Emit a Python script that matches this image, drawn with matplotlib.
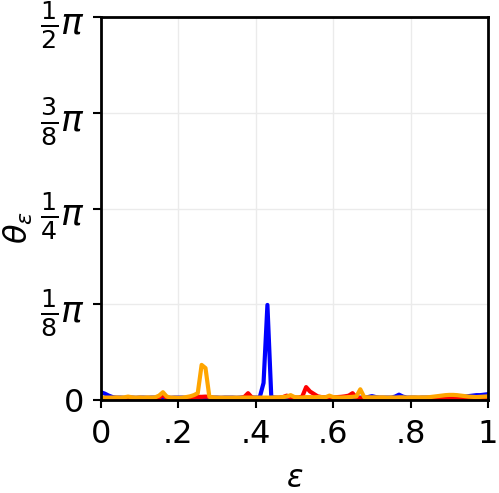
import numpy as np
import matplotlib
matplotlib.use("Agg")
from matplotlib import pyplot as plt

eps = np.linspace(0, 1, 101)

# theta values in radians
theta_blue = [
    0.032, 0.026, 0.018, 0.012, 0.010, 0.010, 0.009, 0.010, 0.010, 0.009,
    0.010, 0.010, 0.009, 0.010, 0.010, 0.010, 0.011, 0.010, 0.009, 0.010,
    0.010, 0.010, 0.009, 0.010, 0.010, 0.010, 0.010, 0.009, 0.010, 0.010,
    0.010, 0.009, 0.010, 0.010, 0.010, 0.009, 0.010, 0.010, 0.010, 0.010,
    0.010, 0.010, 0.070, 0.390, 0.012, 0.010, 0.009, 0.010, 0.010, 0.009,
    0.010, 0.008, 0.006, 0.005, 0.006, 0.005, 0.008, 0.009, 0.010, 0.009,
    0.010, 0.010, 0.009, 0.010, 0.010, 0.009, 0.010, 0.010, 0.010, 0.012,
    0.016, 0.012, 0.010, 0.010, 0.010, 0.010, 0.014, 0.022, 0.014, 0.010,
    0.010, 0.010, 0.009, 0.010, 0.010, 0.010, 0.011, 0.010, 0.010, 0.010,
    0.010, 0.010, 0.012, 0.012, 0.014, 0.016, 0.018, 0.020, 0.020, 0.022,
    0.024,
]

theta_red = [
    0.005, 0.005, 0.005, 0.004, 0.005, 0.005, 0.004, 0.005, 0.005, 0.005,
    0.004, 0.005, 0.005, 0.005, 0.006, 0.010, 0.020, 0.008, 0.005, 0.005,
    0.005, 0.005, 0.006, 0.008, 0.012, 0.013, 0.013, 0.014, 0.013, 0.008,
    0.006, 0.005, 0.005, 0.006, 0.007, 0.006, 0.008, 0.012, 0.028, 0.010,
    0.007, 0.006, 0.006, 0.007, 0.008, 0.008, 0.009, 0.012, 0.018, 0.010,
    0.009, 0.010, 0.014, 0.053, 0.035, 0.025, 0.015, 0.012, 0.010, 0.011,
    0.012, 0.012, 0.013, 0.015, 0.018, 0.028, 0.010, 0.008, 0.007, 0.006,
    0.006, 0.006, 0.007, 0.006, 0.006, 0.007, 0.006, 0.006, 0.006, 0.007,
    0.006, 0.006, 0.006, 0.007, 0.008, 0.006, 0.006, 0.006, 0.006, 0.007,
    0.006, 0.005, 0.004, 0.004, 0.004, 0.005, 0.004, 0.004, 0.004, 0.004,
    0.004,
]

theta_orange = [
    0.010, 0.010, 0.010, 0.010, 0.011, 0.010, 0.011, 0.014, 0.011, 0.010,
    0.011, 0.010, 0.011, 0.010, 0.011, 0.018, 0.032, 0.014, 0.010, 0.010,
    0.009, 0.010, 0.012, 0.015, 0.020, 0.028, 0.144, 0.131, 0.013, 0.011,
    0.010, 0.010, 0.010, 0.010, 0.010, 0.010, 0.010, 0.010, 0.010, 0.010,
    0.010, 0.010, 0.010, 0.010, 0.010, 0.011, 0.011, 0.012, 0.014, 0.020,
    0.012, 0.011, 0.010, 0.012, 0.012, 0.011, 0.012, 0.012, 0.011, 0.018,
    0.012, 0.011, 0.010, 0.011, 0.012, 0.013, 0.015, 0.044, 0.012, 0.011,
    0.011, 0.011, 0.011, 0.011, 0.010, 0.011, 0.010, 0.011, 0.011, 0.010,
    0.011, 0.011, 0.011, 0.011, 0.011, 0.012, 0.014, 0.016, 0.018, 0.020,
    0.021, 0.021, 0.020, 0.018, 0.016, 0.014, 0.013, 0.012, 0.013, 0.014,
    0.015,
]

yticks = [0, np.pi/8, np.pi/4, 3*np.pi/8, np.pi/2]
ytick_labels = ["0", r"$\frac{1}{8}\pi$", r"$\frac{1}{4}\pi$",
                r"$\frac{3}{8}\pi$", r"$\frac{1}{2}\pi$"]
xticks = [0, 0.2, 0.4, 0.6, 0.8, 1.0]
xtick_labels = ["0", ".2", ".4", ".6", ".8", "1"]

fig = plt.figure(figsize=(4.99, 4.93), dpi=100)
ax = fig.add_axes([0.2024, 0.1886, 0.7756, 0.7769])

ax.plot(eps, theta_blue, color="blue", lw=3)
ax.plot(eps, theta_red, color="red", lw=3)
ax.plot(eps, theta_orange, color="orange", lw=3)

ax.set_xlim(0, 1)
ax.set_ylim(0, np.pi/2)
ax.set_xticks(xticks)
ax.set_xticklabels(xtick_labels)
ax.set_yticks(yticks)
ax.set_yticklabels(ytick_labels)
ax.tick_params(labelsize=23, width=1.5, length=6, pad=8, direction="out")
ax.tick_params(axis="y", labelsize=26, pad=6)
ax.get_yticklabels()[0].set_fontsize(23)
ax.grid(True, color="#ebebeb", lw=1)
for s in ax.spines.values():
    s.set_linewidth(2)

ax.set_xlabel(r"$\varepsilon$", fontsize=22, labelpad=10)
ax.set_ylabel(r"$\theta_\varepsilon$", fontsize=23)
ax.yaxis.set_label_coords(-0.17, 0.45)

fig.savefig("out.png", dpi=100)
